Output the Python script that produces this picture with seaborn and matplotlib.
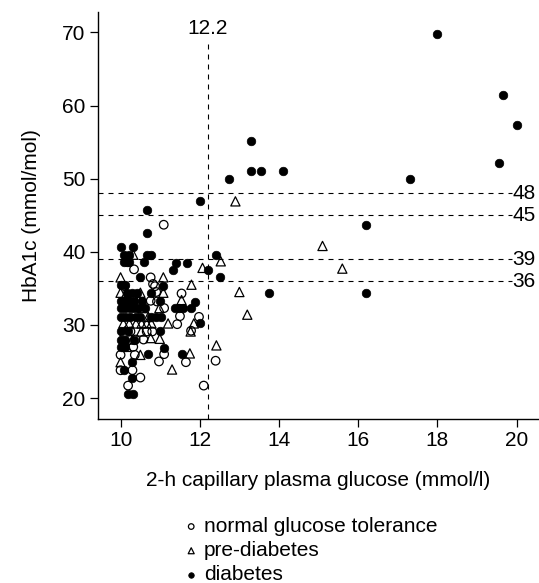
import numpy as np
import pandas as pd
import seaborn as sns
import matplotlib.pyplot as plt

# 2-h capillary plasma glucose (mmol/l) and HbA1c (mmol/mol)
ngt_glucose = [11.09, 10.34, 10.76, 10.82, 10.10, 10.87, 10.90, 11.54, 10.76, 10.92,
               11.50, 11.98, 11.43, 10.25, 10.66, 10.80, 11.78, 10.38, 10.58, 10.32,
               10.00, 10.36, 11.10, 10.97, 11.65, 12.40, 10.00, 10.30, 10.50, 10.19,
               12.10, 11.10]
ngt_hba1c = [43.7, 37.6, 36.5, 35.6, 35.3, 35.3, 34.5, 34.3, 33.3, 33.2,
             31.2, 31.1, 30.1, 29.1, 29.1, 29.1, 29.2, 28.0, 28.0, 27.0,
             25.9, 25.9, 26.0, 25.0, 24.9, 25.1, 23.8, 23.8, 22.8, 21.7,
             21.7, 32.3]

pre_glucose = [12.90, 15.10, 15.60, 13.00, 13.20, 12.42, 12.53, 12.07, 10.32, 10.00,
               11.08, 11.79, 10.00, 10.15, 10.50, 11.08, 10.45, 11.54, 10.55, 10.98,
               10.70, 10.07, 10.22, 10.39, 10.53, 10.66, 10.78, 11.20, 11.85, 10.10,
               10.52, 11.77, 10.30, 10.76, 10.99, 10.15, 10.50, 11.75, 10.00, 11.30]
pre_hba1c = [46.9, 40.8, 37.7, 34.5, 31.4, 27.2, 38.7, 37.8, 39.6, 36.5,
             36.5, 35.5, 34.4, 34.4, 34.4, 34.4, 33.3, 33.4, 32.3, 32.3,
             31.1, 30.2, 30.2, 30.2, 30.2, 30.2, 30.2, 30.2, 30.2, 29.1,
             29.1, 29.1, 28.0, 28.2, 28.1, 27.0, 25.9, 26.1, 24.9, 23.9]

dm_glucose = [18.00, 19.65, 20.00, 19.55, 17.30, 16.20, 16.20, 13.75, 14.10, 13.55,
              13.30, 13.30, 12.75, 12.00, 12.42, 12.20, 12.50, 12.00, 10.66, 10.66,
              10.00, 10.32, 10.08, 10.22, 10.66, 10.76, 10.08, 10.22, 10.60, 11.41,
              11.69, 11.33, 10.49, 10.00, 11.08, 10.15, 10.30, 10.78, 10.00, 10.22,
              10.99, 11.89, 10.00, 10.12, 10.25, 11.37, 11.47, 11.58, 11.78, 10.00,
              10.12, 10.25, 10.38, 10.50, 10.89, 11.03, 10.00, 10.99, 10.00, 10.35,
              10.00, 10.10, 11.10, 10.70, 11.54, 10.28, 10.30, 10.19, 10.32, 10.08,
              10.34, 10.42, 10.77, 10.62, 10.10, 10.45, 10.35, 10.10, 10.20, 10.10,
              10.55, 10.15]
dm_hba1c = [69.8, 61.4, 57.3, 52.1, 50.0, 43.7, 34.4, 34.4, 51.1, 51.1,
            51.1, 55.2, 50.0, 46.9, 39.6, 37.5, 36.6, 30.2, 45.7, 42.6,
            40.6, 40.6, 39.6, 39.6, 39.6, 39.6, 38.6, 38.6, 38.6, 38.4,
            38.4, 37.5, 36.5, 35.4, 35.3, 34.4, 34.4, 34.4, 33.3, 33.3,
            33.3, 33.2, 32.3, 32.3, 32.3, 32.3, 32.3, 32.3, 32.3, 31.1,
            31.1, 31.1, 31.1, 31.1, 31.1, 31.1, 29.1, 29.1, 28.0, 28.0,
            27.0, 27.0, 26.9, 26.0, 26.0, 24.9, 22.8, 20.6, 20.6, 23.8,
            33.3, 34.4, 31.1, 32.3, 33.3, 32.3, 32.3, 35.4, 29.1, 28.0,
            33.3, 38.6]

glucose_cut = 12.2
hba1c_cuts = [48, 45, 39, 36]
groups = ["normal glucose tolerance", "pre-diabetes", "diabetes"]

df = pd.DataFrame({
    "glucose": ngt_glucose + pre_glucose + dm_glucose,
    "hba1c": ngt_hba1c + pre_hba1c + dm_hba1c,
    "group": [groups[0]] * len(ngt_glucose) + [groups[1]] * len(pre_glucose)
             + [groups[2]] * len(dm_glucose),
})

sns.set_theme(style="ticks")
plt.rcParams["font.family"] = ["Liberation Sans", "DejaVu Sans"]
plt.rcParams["text.color"] = "black"
plt.rcParams["axes.labelcolor"] = "black"
fs = 15

dpi = 100
fig, ax = plt.subplots(figsize=(539 / dpi, 583 / dpi), dpi=dpi)
fig.subplots_adjust(left=98 / 539, right=0.998, bottom=1 - 419 / 583, top=1 - 12 / 583)

xlim = (9.43, 20.54)
ylim = (17.13, 72.8)

# reference lines
ax.vlines(glucose_cut, ylim[0], 68.7, color="black", lw=0.8, linestyles=(0, (4.5, 4.5)))
ax.text(glucose_cut, 70.5, "12.2", ha="center", va="center", fontsize=fs)
ax.hlines(hba1c_cuts, xlim[0], 19.88, color="black", lw=0.8, linestyles=(0, (4.5, 4.5)))
for c in hba1c_cuts:
    ax.text(19.9, c, str(c), ha="left", va="center", fontsize=fs)

# points
sub = df[df.group == groups[0]]
sns.scatterplot(data=sub, x="glucose", y="hba1c", marker="o", s=38, color="black",
                facecolor="none", edgecolor="black", linewidth=0.9, label=groups[0], ax=ax)
sub = df[df.group == groups[1]]
sns.scatterplot(data=sub, x="glucose", y="hba1c", marker="^", s=44, color="black",
                facecolor="none", edgecolor="black", linewidth=0.9, label=groups[1], ax=ax)
sub = df[df.group == groups[2]]
sns.scatterplot(data=sub, x="glucose", y="hba1c", marker="o", s=38, color="black",
                edgecolor="black", linewidth=0.5, label=groups[2], ax=ax)

ax.set_xlim(*xlim)
ax.set_ylim(*ylim)
ax.set_xticks([10, 12, 14, 16, 18, 20])
ax.set_yticks([20, 30, 40, 50, 60, 70])
ax.tick_params(direction="out", length=6, width=0.9, colors="black", labelsize=fs, pad=3)
for side in ["left", "bottom"]:
    ax.spines[side].set_linewidth(1.0)
    ax.spines[side].set_color("black")
sns.despine(ax=ax)

ax.set_xlabel("2-h capillary plasma glucose (mmol/l)", fontsize=fs, color="black")
ax.set_ylabel("HbA1c (mmol/mol)", fontsize=fs, color="black")
ax.xaxis.set_label_coords(0.5, (419 - 471) / 407)
ax.yaxis.set_label_coords((41 - 98) / 440, 0.5)

handles, labels = ax.get_legend_handles_labels()
leg = ax.legend(handles, labels, loc="upper left", bbox_to_anchor=(186 / 539, 1 - 517 / 583),
                bbox_transform=fig.transFigure, frameon=False, fontsize=fs, markerscale=0.65,
                handlelength=0.5, handletextpad=0.35, labelspacing=0.25, borderpad=0,
                borderaxespad=0)
for t in leg.get_texts():
    t.set_color("black")

fig.savefig("out.png", dpi=dpi)
